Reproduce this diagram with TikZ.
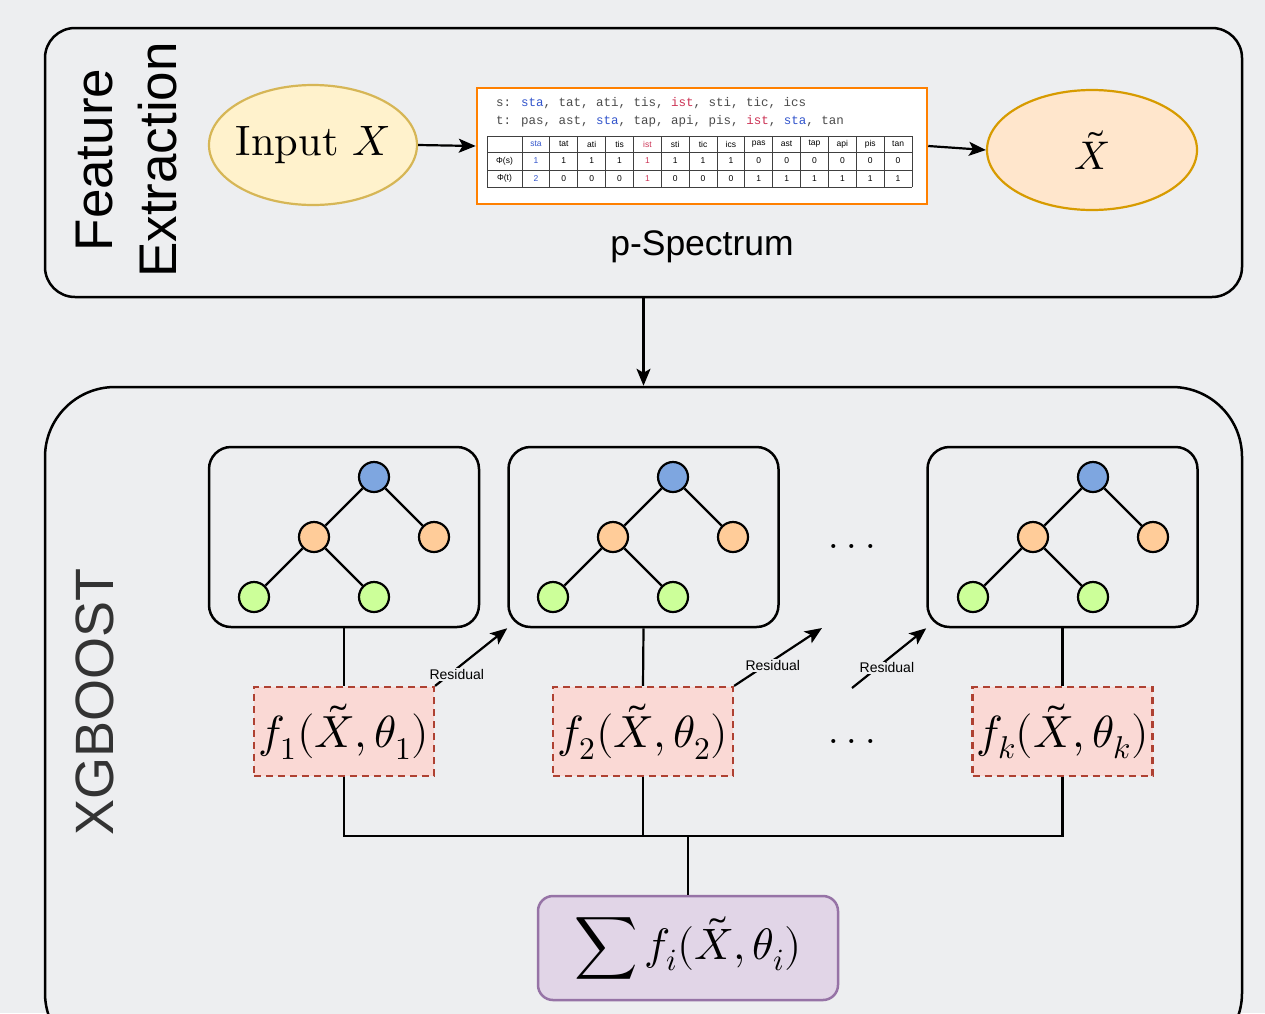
\documentclass[tikz,border=0pt]{standalone}
\usepackage{amsmath}
\usepackage{fontspec}
\usepackage{unicode-math}
\setmainfont{lmroman10-regular}[Extension=.otf, ItalicFont=lmroman10-italic]
\setmathfont{Latin Modern Math}
\setsansfont{Liberation Sans}
\setmonofont{Liberation Mono}
\usetikzlibrary{shapes.geometric,arrows.meta}
\definecolor{bg}{HTML}{EDEEF0}
\definecolor{inFill}{HTML}{FFF2CC}
\definecolor{inDraw}{HTML}{D6B656}
\definecolor{xtFill}{HTML}{FFE6CC}
\definecolor{xtDraw}{HTML}{D79B00}
\definecolor{psDraw}{HTML}{FF8000}
\definecolor{nBlue}{HTML}{7EA6E0}
\definecolor{nOrange}{HTML}{FFCC99}
\definecolor{nGreen}{HTML}{CCFF99}
\definecolor{fFill}{HTML}{FAD9D5}
\definecolor{fDraw}{HTML}{AE4132}
\definecolor{sFill}{HTML}{E1D5E7}
\definecolor{sDraw}{HTML}{9673A6}
\definecolor{tblue}{HTML}{3355CC}
\definecolor{tred}{HTML}{CC3355}
\begin{document}
\begin{tikzpicture}[x=1pt,y=-1pt,
  panel/.style={draw=black, line width=2.5pt, fill=bg},
  treebox/.style={draw=black, line width=2.5pt, rounded corners=22pt, minimum width=270pt, minimum height=180pt},
  nd/.style={circle, draw=black, line width=2.2pt, minimum size=30pt, inner sep=0pt},
  edge/.style={line width=2.4pt},
  fbox/.style={draw=fDraw, dash pattern=on 7pt off 5pt, fill=fFill, line width=2.2pt, inner sep=0pt, minimum width=180pt, minimum height=89pt, font=\fontsize{45}{48}\selectfont},
  arr/.style={-{Stealth[length=17pt,width=14pt,inset=4pt]}, line width=2.2pt},
  conn/.style={line width=2.2pt},
  reslabel/.style={fill=bg, inner sep=1pt, font=\sffamily\fontsize{14}{15}\selectfont},
  cell/.style={inner sep=0pt, font=\sffamily\fontsize{8.5}{9}\selectfont},
  dotsty/.style={font=\fontsize{38}{38}\selectfont}
]
\useasboundingbox (0,0) rectangle (1265,1013);
\fill[bg] (0,0) rectangle (1265,1013);

% ---------- top panel ----------
\node[panel, rounded corners=30pt, minimum width=1197pt, minimum height=269pt] (top) at (643.5,162.5) {};
\node[rotate=90, align=center, font=\sffamily\fontsize{53}{64}\selectfont] (fe) at (127,160) {Feature\\Extraction};

\node[ellipse, draw=inDraw, fill=inFill, line width=2.2pt, minimum width=208pt, minimum height=120pt] (in) at (313,145) {};
\node[font=\fontsize{42.5}{46}\selectfont, inner sep=0pt] (intext) at (in.center) {Input $X$};
\node[ellipse, draw=xtDraw, fill=xtFill, line width=2.2pt, minimum width=210pt, minimum height=120pt,
      font=\fontsize{40}{44}\selectfont] (xt) at (1092,150) {$\tilde{X}$};

\node[draw=psDraw, fill=white, line width=2.5pt, minimum width=450pt, minimum height=116pt] (ps) at (702,146) {};
\node[font=\sffamily\fontsize{35.5}{38}\selectfont] (pslab) at (702,247) {p-Spectrum};

% p-spectrum content
\node[anchor=west, inner sep=0pt, text=black!70, font=\ttfamily\fontsize{12.5}{13}\selectfont] (sline) at (496,103)
  {s: \textcolor{tblue}{sta}, tat, ati, tis, \textcolor{tred}{ist}, sti, tic, ics};
\node[anchor=west, inner sep=0pt, text=black!70, font=\ttfamily\fontsize{12.5}{13}\selectfont] (tline) at (496,121)
  {t: pas, ast, \textcolor{tblue}{sta}, tap, api, pis, \textcolor{tred}{ist}, \textcolor{tblue}{sta}, tan};
\foreach \yy in {136,152,170,187} \draw[black!75, line width=0.9pt] (487,\yy) -- (912,\yy);
\draw[black!75, line width=0.9pt] (487,136) -- (487,187);
\foreach \j in {0,...,14} \draw[black!75, line width=0.9pt] (522+\j*27.857,136) -- (522+\j*27.857,187);
\node[cell] (lphis) at (504.5,161) {Φ(s)};
\node[cell] (lphit) at (504.5,178.5) {Φ(t)};
\foreach \h/\vs/\vt/\c [count=\j] in {sta/1/2/tblue, tat/1/0/black, ati/1/0/black, tis/1/0/black, ist/1/1/tred,
   sti/1/0/black, tic/1/0/black, ics/1/0/black, pas/0/1/black, ast/0/1/black, tap/0/1/black, api/0/1/black,
   pis/0/1/black, tan/0/1/black}{
  \node[cell, text=\c] (h\j) at (522+\j*27.857-13.93,144) {\h};
  \node[cell, text=\c] (s\j) at (522+\j*27.857-13.93,161) {\vs};
  \node[cell, text=\c] (t\j) at (522+\j*27.857-13.93,178.5) {\vt};
}

\draw[arr] (in.east) -- (ps.west);
\draw[arr] (ps.east) -- (xt.west);

% ---------- bottom panel ----------
\begin{scope}
\clip (0,0) rectangle (1265,1013);
\node[panel, rounded corners=70pt, minimum width=1197pt, minimum height=676pt] (bot) at (643.5,725) {};
\end{scope}
\node[rotate=90, text=black!80, font=\sffamily\fontsize{54}{60}\selectfont] (xg) at (95,702) {XGBOOST};

\draw[arr] (top.south) -- (bot.north);

% tree boxes
\node[treebox] (tb1) at (344,537) {};
\node[treebox] (tb2) at (643.5,537) {};
\node[treebox] (tb3) at (1062.5,537) {};

\foreach \k/\cx in {1/374,2/673,3/1093}{
  \node[nd, fill=nBlue] (r\k) at (\cx,477) {};
  \node[nd, fill=nOrange] (a\k) at (\cx-60,537) {};
  \node[nd, fill=nOrange] (b\k) at (\cx+60,537) {};
  \node[nd, fill=nGreen] (c\k) at (\cx-120,597) {};
  \node[nd, fill=nGreen] (d\k) at (\cx,597) {};
  \draw[edge] (r\k) -- (a\k);
  \draw[edge] (r\k) -- (b\k);
  \draw[edge] (a\k) -- (c\k);
  \draw[edge] (a\k) -- (d\k);
}

\node[dotsty] (dots1) at (852,546) {.\hspace{8pt}.\hspace{8pt}.};
\node[dotsty] (dots2) at (852,741) {.\hspace{8pt}.\hspace{8pt}.};

% f boxes
\node[fbox] (f1) at (344,731.5) {$f_1(\tilde{X},\theta_1)$};
\node[fbox] (f2) at (643,731.5) {$f_2(\tilde{X},\theta_2)$};
\node[fbox] (fk) at (1062.5,731.5) {$f_k(\tilde{X},\theta_k)$};

\draw[conn] (tb1.south) -- (f1.north);
\draw[conn] (tb2.south) -- (f2.north);
\draw[conn] (tb3.south) -- (fk.north);

% sum box
\node[draw=sDraw, fill=sFill, line width=2.5pt, rounded corners=15pt, minimum width=300pt, minimum height=104pt,
      font=\fontsize{44}{48}\selectfont] (sum) at (688,948) {$\displaystyle\sum f_i(\tilde{X},\theta_i)$};

\coordinate (bus) at (688,836);
\draw[conn] (f1.south) |- (fk.south |- bus) -- (fk.south);
\draw[conn] (f2.south) -- (f2.south |- bus);
\draw[conn] (bus) -- (sum.north);

% residual arrows
\coordinate (r2end) at (822,628);
\coordinate (r3start) at (852,688);
\draw[arr] (f1.north east) -- node[reslabel, pos=0.3, yshift=-6pt] (res1) {Residual} (tb2.south west);
\draw[arr] (f2.north east) -- node[reslabel, pos=0.44, yshift=-5pt] (res2) {Residual} (r2end);
\draw[arr] (r3start) -- node[reslabel, pos=0.47, yshift=-8pt] (res3) {Residual} (tb3.south west);
\end{tikzpicture}
\end{document}
